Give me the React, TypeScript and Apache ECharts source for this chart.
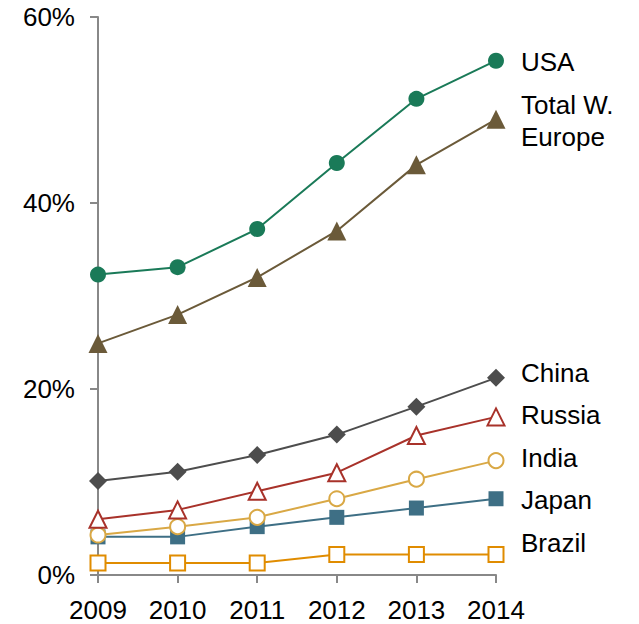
import React, { useEffect, useRef } from "react";
import * as echarts from "echarts";

const years = ["2009", "2010", "2011", "2012", "2013", "2014"];
const usa = [32.3, 33.1, 37.2, 44.3, 51.2, 55.3];
const europe = [24.9, 28.0, 32.0, 37.0, 44.1, 49.0];
const china = [10.1, 11.1, 12.9, 15.1, 18.1, 21.2];
const russia = [6.0, 7.0, 9.0, 11.0, 15.0, 17.0];
const india = [4.3, 5.2, 6.2, 8.2, 10.3, 12.3];
const japan = [4.1, 4.1, 5.2, 6.2, 7.2, 8.2];
const brazil = [1.3, 1.3, 1.3, 2.2, 2.2, 2.2];

type S = {
  name: string;
  label: string;
  data: number[];
  color: string;
  symbol: string;
  size: number | number[];
  hollow: boolean;
  dy: number;
};

const seriesDefs: S[] = [
  { name: "Brazil", label: "Brazil", data: brazil, color: "#E08C00", symbol: "rect", size: 15, hollow: true, dy: -12 },
  { name: "Japan", label: "Japan", data: japan, color: "#3E6F85", symbol: "rect", size: 15, hollow: false, dy: 1 },
  { name: "India", label: "India", data: india, color: "#D9A845", symbol: "circle", size: 15, hollow: true, dy: -3 },
  { name: "Russia", label: "Russia", data: russia, color: "#A8322A", symbol: "triangle", size: 17, hollow: true, dy: -2 },
  { name: "China", label: "China", data: china, color: "#4D4D4D", symbol: "diamond", size: [18, 18], hollow: false, dy: -5 },
  { name: "Europe", label: "Total W.\nEurope", data: europe, color: "#6B5A39", symbol: "triangle", size: 19, hollow: false, dy: 2 },
  { name: "USA", label: "USA", data: usa, color: "#1A7A58", symbol: "circle", size: 16, hollow: false, dy: 1 },
];

export default function App() {
  const ref = useRef<HTMLDivElement>(null);
  useEffect(() => {
    document.body.style.margin = "0";
    if (!ref.current) return;
    const chart = echarts.init(ref.current, undefined, { renderer: "svg" });
    const font = "Liberation Sans, Arial, sans-serif";
    chart.setOption({
      animation: false,
      backgroundColor: "#fff",
      grid: { left: 98, right: 143, top: 17, bottom: 49 },
      xAxis: {
        type: "category",
        data: years,
        boundaryGap: false,
        axisLine: { lineStyle: { color: "#888", width: 2 } },
        axisTick: { show: true, length: 8, lineStyle: { color: "#888", width: 2 } },
        axisLabel: { color: "#000", fontSize: 26, fontFamily: font, margin: 22 },
      },
      yAxis: {
        type: "value",
        min: 0,
        max: 60,
        interval: 20,
        splitLine: { show: false },
        axisLine: { show: true, lineStyle: { color: "#888", width: 2 } },
        axisTick: { show: true, length: 8, lineStyle: { color: "#888", width: 2 } },
        axisLabel: { color: "#000", fontSize: 26, fontFamily: font, margin: 23, formatter: "{value}%" },
      },
      series: seriesDefs.map((s) => ({
        type: "line",
        name: s.name,
        data: s.data,
        symbol: s.symbol,
        symbolSize: s.size,
        showAllSymbol: true,
        lineStyle: { color: s.color, width: 2 },
        itemStyle: s.hollow
          ? { color: "#fff", borderColor: s.color, borderWidth: 2 }
          : { color: s.color, borderColor: s.color, borderWidth: 0 },
        endLabel: {
          show: true,
          formatter: () => s.label,
          distance: 25,
          offset: [0, s.dy],
          color: "#000",
          fontSize: 26,
          fontFamily: font,
          lineHeight: 32,
          align: "left",
          verticalAlign: "middle",
        },
      })),
    });
    return () => chart.dispose();
  }, []);
  return <div ref={ref} style={{ width: 639, height: 624 }} />;
}
